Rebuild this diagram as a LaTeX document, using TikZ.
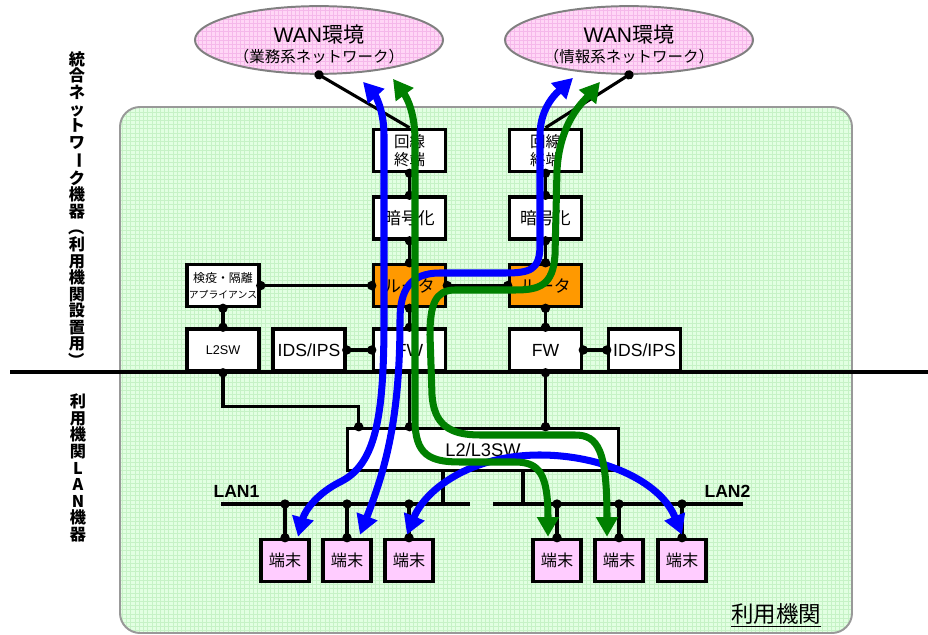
\documentclass[tikz,border=0pt]{standalone}
\usepackage{fontspec}
\setmainfont{Liberation Sans}
\newfontfamily\jp{Noto Sans CJK JP}
\usepackage{tikz}
\usetikzlibrary{arrows.meta,positioning,shapes.geometric,calc,patterns}
\definecolor{flowblue}{HTML}{0000FF}
\definecolor{flowgreen}{HTML}{008000}
\definecolor{routerorange}{HTML}{FF9900}
\definecolor{termpink}{HTML}{FFCCFF}
\definecolor{wanpink}{HTML}{FFD6F6}
\definecolor{wangrid}{HTML}{F5B8EA}
\definecolor{sitegreen}{HTML}{E2FFE2}
\definecolor{sitegrid}{HTML}{C6F2C6}

\begin{document}
\begin{tikzpicture}[x=0.025cm, y=-0.025cm,
    box/.style={draw, line width=2.5pt, fill=white, minimum width=1.8cm, minimum height=1.05cm, inner sep=1pt, align=center},
    jpbox/.style={box, font=\jp\fontsize{12}{14}\selectfont},
    term/.style={box, fill=termpink, minimum width=1.2cm, font=\jp\fontsize{11.5}{13}\selectfont},
    wan/.style={ellipse, draw=gray, line width=1.4pt, preaction={fill=wanpink}, pattern=grid, pattern color=wangrid,
        minimum width=6.2cm, minimum height=1.65cm, inner sep=0pt, align=center, font=\fontsize{15}{17}\selectfont},
    wire/.style={line width=2.2pt},
    link/.style={wire, {Circle[length=6.5pt]}-{Circle[length=6.5pt]}, shorten <=-3.25pt, shorten >=-3.25pt},
    linkend/.style={wire, -{Circle[length=6.5pt]}, shorten >=-3.25pt},
    linkstart/.style={wire, {Circle[length=6.5pt]}-, shorten <=-3.25pt},
    flow/.style={line width=5pt, line join=round, {Triangle[length=14pt,width=15pt]}-{Triangle[length=14pt,width=15pt]}},
    tate/.style={align=center, inner sep=0pt, font=\jp\bfseries\fontsize{11.5}{11.8}\selectfont},
    lan/.style={font=\bfseries\fontsize{12.5}{14}\selectfont},
    node distance=0.55cm
]
\useasboundingbox (0,0) rectangle (928,635);
\draw[draw=gray!80, line width=1.4pt, rounded corners=0.5cm, preaction={fill=sitegreen}, pattern=grid, pattern color=sitegrid]
    (120,107) rectangle (852,633);

\node[tate] (side1) at (77,210) {統\\合\\ネ\\ッ\\ト\\ワ\\\rotatebox[origin=c]{-90}{ー}\\ク\\機\\器\\\rotatebox[origin=c]{-90}{（}\\利\\用\\機\\関\\設\\置\\用\\\rotatebox[origin=c]{-90}{）}};
\node[tate] (side2) at (78,468) {利\\用\\機\\関\\L\\A\\N\\機\\器};
\draw[wire, line width=2.5pt] (10,372) -- (928,372);

\node[wan] (wan1) at (319,40) {\rule{0pt}{19pt}WAN{\jp 環境}\\[-3pt]{\jp\fontsize{11}{12}\selectfont （業務系ネットワーク）}};
\node[wan] (wan2) at (629,40) {\rule{0pt}{19pt}WAN{\jp 環境}\\[-3pt]{\jp\fontsize{11}{12}\selectfont （情報系ネットワーク）}};

\node[jpbox, font=\jp\fontsize{11}{12.5}\selectfont] (kaisen1) at (409.5,150.5) {回線\\終端};
\node[jpbox, below=of kaisen1] (angou1) {暗号化};
\node[jpbox, fill=routerorange, below=of angou1] (router1) {ルータ};
\node[jpbox, font=\jp\fontsize{11}{12.5}\selectfont] (kaisen2) at (545.5,150.5) {回線\\終端};
\node[jpbox, below=of kaisen2] (angou2) {暗号化};
\node[jpbox, fill=routerorange, below=of angou2] (router2) {ルータ};
\node[box, font=\fontsize{12.5}{14}\selectfont] (fw1) at (409.5,350) {FW};
\node[box, font=\fontsize{12.5}{14}\selectfont] (fw2) at (545.5,350) {FW};
\node[box, font=\fontsize{12.5}{14}\selectfont] (ids1) at (309,350) {IDS/IPS};
\node[box, font=\fontsize{12.5}{14}\selectfont] (ids2) at (644.5,350) {IDS/IPS};
\node[box, font=\fontsize{9}{10}\selectfont] (l2sw) at (223,350) {L2SW};
\node[box] (kenneki) at (router1 -| l2sw) {{\jp\fontsize{8.5}{9}\selectfont 検疫・隔離}\\[-1pt]{\jp\fontsize{7}{8}\selectfont アプライアンス}};
\node[box, minimum width=6.775cm, font=\fontsize{13}{14}\selectfont] (l3sw) at (483,449.5) {L2/L3SW};
\foreach \x/\n in {285/t1,347/t2,409/t3,557/t4,619/t5,682/t6}
    \node[term] (\n) at (\x,560.5) {端末};

\draw[linkstart] (wan1.south) -- (kaisen1.north);
\draw[linkstart] (wan2.south) -- (kaisen2.north);
\draw[link] (kaisen1) -- (angou1);
\draw[link] (angou1) -- (router1);
\draw[link] (router1) -- (fw1);
\draw[link] (kaisen2) -- (angou2);
\draw[link] (angou2) -- (router2);
\draw[link] (router2) -- (fw2);
\draw[link] (kenneki) -- (router1);
\draw[link] (router1) -- (router2);
\draw[link] (kenneki) -- (l2sw);
\draw[link] (ids1) -- (fw1);
\draw[link] (fw2) -- (ids2);
\draw[link] (l2sw.south) -- ++(0,34) -| ($(l3sw.north west)+(13,0)$);
\draw[linkend] (fw1.south) -- (fw1.south |- l3sw.north);
\draw[link] (fw2.south) -- (fw2.south |- l3sw.north);

\coordinate (lan1w) at (221,504);
\coordinate (lan1e) at (470,504);
\coordinate (lan2w) at (493,504);
\coordinate (lan2e) at (743,504);
\draw[wire] (lan1w) -- (lan1e);
\draw[wire] (lan2w) -- (lan2e);
\draw[wire] ($(l3sw.south)+(-40,0)$) -- +(0,34);
\draw[wire] ($(l3sw.south)+(40,0)$) -- +(0,34);
\foreach \n in {t1,t2,t3}
    \draw[link] (\n.north |- lan1w) -- (\n.north);
\foreach \n in {t4,t5,t6}
    \draw[link] (\n.north |- lan2w) -- (\n.north);
\node[lan] (lan1label) at (236.5,491) {LAN1};
\node[lan] (lan2label) at (727.5,491) {LAN2};
\node[font=\jp\fontsize{16}{18}\selectfont] (sitename) at (776,615) {\underline{利用機関}};

\draw[flow, flowblue] ($(wan1.south)+(44,7)$) .. controls (375,95) and (384,110) .. (384,135) -- (384,320)
    .. controls (384,420) and (375,465) .. (340,482) .. controls (318,493) and (305,510) .. ($(t1.north)+(13,-1)$);
\draw[flow, flowblue] ($(wan2.south)+(-56,3)$) .. controls (560,90) and (540,105) .. (540,135) -- (540,245)
    .. controls (540,270) and (530,273) .. (505,273) -- (440,273) .. controls (410,273) and (400,290) .. (400,320)
    .. controls (400,420) and (385,470) .. ($(t2.north)+(13,-3)$);
\draw[flow, flowblue] ($(t3.north)+(-2,-3)$) .. controls (425,490) and (470,455) .. (540,455)
    .. controls (600,455) and (660,480) .. ($(t6.north)+(0,-3)$);
\draw[flow, flowgreen] ($(wan1.south)+(74,4)$) .. controls (405,95) and (415,110) .. (415,140) -- (415,420)
    .. controls (415,455) and (430,462) .. (460,462) -- (515,462) .. controls (540,462) and (548,475) .. ($(t4.north)+(-9,-1)$);
\draw[flow, flowgreen] ($(wan2.south)+(-29,7)$) .. controls (585,100) and (560,120) .. (557,170) -- (555,255)
    .. controls (553,285) and (540,290) .. (515,290) -- (455,290) .. controls (435,290) and (430,305) .. (430,335)
    -- (432,395) .. controls (434,425) and (450,435) .. (480,435) -- (575,435) .. controls (598,435) and (607,450) .. ($(t5.north)+(-12,-1)$);
\end{tikzpicture}
\end{document}
